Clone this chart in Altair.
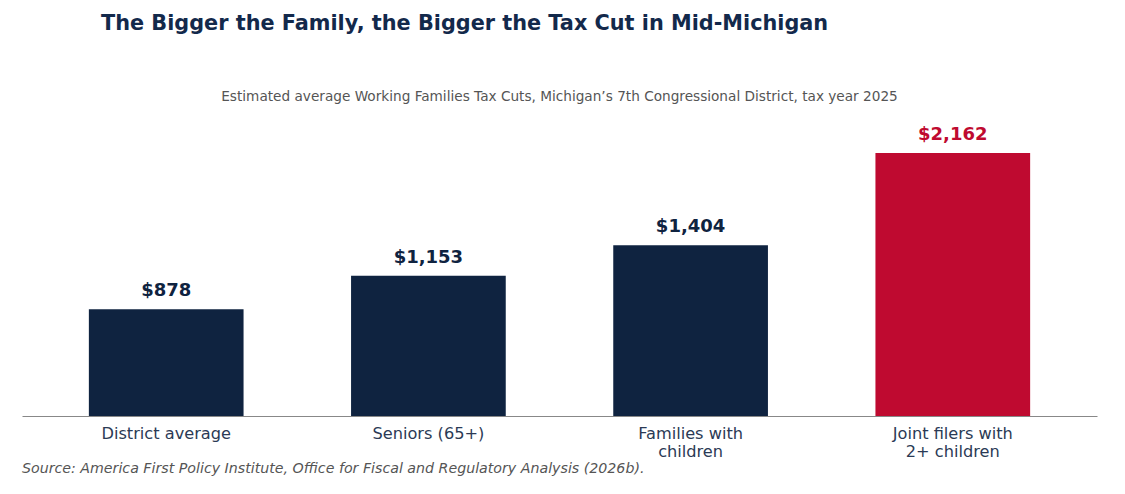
import altair as alt
import pandas as pd

categories = ["District average", "Seniors (65+)", "Families with children", "Joint filers with 2+ children"]
tick_lines = [["District average"], ["Seniors (65+)"], ["Families with", "children"], ["Joint filers with", "2+ children"]]
values = [878, 1153, 1404, 2162]
value_labels = ["$878", "$1,153", "$1,404", "$2,162"]
highlight = [False, False, False, True]

title_text = "The Bigger the Family, the Bigger the Tax Cut in Mid-Michigan"
subtitle_text = "Estimated average Working Families Tax Cuts, Michigan\u2019s 7th Congressional District, tax year 2025"
source_text = "Source: America First Policy Institute, Office for Fiscal and Regulatory Analysis (2026b)."

NAVY = "#0f2340"
RED = "#bf0a30"
FONT = "DejaVu Sans"
W, H = 1075, 292

df = pd.DataFrame({
    "category": categories,
    "value": values,
    "label": value_labels,
    "group": ["highlight" if h else "base" for h in highlight],
})

# build label expression for multi-line tick labels
expr = "datum.value"
for cat, lines in reversed(list(zip(categories, tick_lines))):
    arr = "[" + ",".join("'" + l + "'" for l in lines) + "]"
    expr = f"datum.value == '{cat}' ? {arr} : ({expr})"

color = alt.Color("group:N", scale=alt.Scale(domain=["base", "highlight"], range=[NAVY, RED]), legend=None)
x = alt.X("category:N", sort=categories,
          scale=alt.Scale(paddingInner=0.41, paddingOuter=0.255),
          axis=alt.Axis(title=None, labelAngle=0, ticks=False, domainColor="#888888", domainWidth=1.2,
                        labelFontSize=16.2, labelColor="#2b3a55", labelFont=FONT, labelPadding=9,
                        labelLineHeight=18, labelExpr=expr))
y = alt.Y("value:Q", scale=alt.Scale(domain=[0, 2400]), axis=None)

base = alt.Chart(df)
bars = base.mark_bar().encode(x=x, y=y, color=color)
labels = base.mark_text(dy=-13, baseline="alphabetic", fontSize=18, fontWeight="bold", font=FONT).encode(
    x=x, y=y, text="label:N", color=color)

title = alt.Chart(pd.DataFrame({"t": [title_text]})).mark_text(
    align="left", baseline="alphabetic", fontSize=20.8, fontWeight="bold", font=FONT, color="#13294b"
).encode(x=alt.value(79), y=alt.value(-94), text="t:N")
subtitle = alt.Chart(pd.DataFrame({"t": [subtitle_text]})).mark_text(
    align="center", baseline="alphabetic", fontSize=13.65, font=FONT, color="#555555"
).encode(x=alt.value(W / 2), y=alt.value(-23), text="t:N")
source = alt.Chart(pd.DataFrame({"t": [source_text]})).mark_text(
    align="left", baseline="alphabetic", fontSize=14.2, font=FONT, fontStyle="italic", color="#555555"
).encode(x=alt.value(0), y=alt.value(349), text="t:N")

chart = alt.layer(bars, labels, title, subtitle, source).properties(
    width=W, height=H,
    autosize=alt.AutoSizeParams(type="none"),
    padding={"left": 14, "top": 116, "right": 20, "bottom": 60},
).configure_view(stroke=None)

chart.save("out.html", embed_options={"renderer": "svg", "actions": False})
